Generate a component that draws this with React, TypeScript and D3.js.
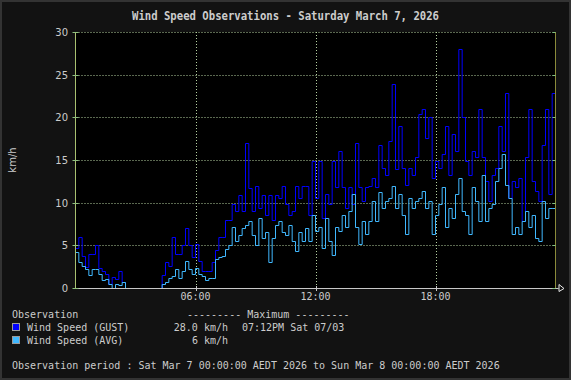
import React from "react";
import * as d3 from "d3";

const W = 571;
const H = 380;

const yTicks = [0, 5, 10, 15, 20, 25, 30];
const xTickHours = [6, 12, 18];
const xTickLabels = ["06:00", "12:00", "18:00"];

// 10-minute samples from 00:00
const gust = [
  4.7, 6, 3.8, 2.5, 4, 4, 5, 2.4, 2, 1.6, 0.5, 1.3, 1, 2, 0.7, 0, 0, 0, 0, 0,
  0, 0, 0, 0, 0, 0, 1.5, 3, 2.6, 6, 4, 4, 5, 7, 5, 3.6, 5.2, 3.2, 2, 2,
  2, 3, 4.5, 6, 6, 8, 8, 9.8, 9, 10.9, 9, 17, 11.7, 9, 11.9, 9.4, 10.9, 8.6, 10.9, 8,
  10.9, 10.5, 11.9, 9.8, 8.6, 9, 11.9, 10.5, 11.9, 11.9, 8.6, 14.9, 10.6, 14.9, 8.2, 11, 9.8, 14.9, 11.8, 16,
  11.8, 9.4, 11.8, 9.8, 17, 11.8, 10.2, 11.8, 12, 12.9, 11.8, 16.8, 14.1, 13.3, 17.2, 23.9, 14, 19, 14.1, 12.1,
  14.1, 13.3, 15.3, 20.4, 21, 17.6, 20, 12.9, 14.9, 14.1, 15.7, 19, 13.3, 18, 16, 28, 20, 14.9, 13.3, 16,
  15.3, 21, 15.3, 12.5, 10.2, 13.3, 14.1, 19, 16, 22.9, 10.6, 12.5, 11.8, 12.9, 7.9, 15.3, 21, 12.5, 11.4, 10.2,
  16.8, 21, 11, 22.9,
];

const avg = [
  4.2, 3, 2.6, 2.2, 1.5, 2.2, 2.2, 1.6, 0.9, 1.1, 0.5, 0, 0.5, 0.3, 0.7, 0, 0, 0, 0, 0,
  0, 0, 0, 0, 0, 0, 0.5, 0.7, 1.2, 1.4, 2.2, 1.2, 2, 3.2, 2.2, 1.6, 2.4, 1.6, 1.4, 0.9,
  1.2, 1.2, 3.4, 3.6, 3.8, 4.6, 5, 7.1, 5.5, 6.2, 7, 7.4, 7.8, 6.2, 5, 8.2, 5.9, 6.6, 3.1, 5.9,
  7.4, 7.8, 6.6, 6.2, 7.4, 5.5, 4.3, 6.6, 5.5, 7, 5.5, 8.6, 6.7, 7.1, 4.7, 8.2, 5.5, 3.9, 7.1, 6.7,
  8.6, 7.1, 9, 11, 7.1, 5.1, 7.9, 6.3, 7.9, 10.2, 7.9, 11.2, 9.4, 10.2, 10.6, 12, 9.4, 11, 8.6, 6.3,
  10.6, 9.4, 10.2, 10.6, 11.4, 9.4, 10.2, 6.3, 8.6, 9.8, 11.8, 7.1, 9.4, 8.2, 11, 12.9, 9, 8.6, 6.3, 11.8,
  10.2, 7.9, 13.3, 7.9, 9.4, 9.8, 12.5, 14.1, 15.7, 12.1, 10.6, 6.3, 7.1, 6.3, 7.9, 9, 7.1, 8.6, 5.9, 5.5,
  10.2, 8.2, 9.4, 9.4,
];

const seriesNames = ["Wind Speed (GUST)", "Wind Speed (AVG)"];
const seriesColors = ["#0000ff", "#40b8ff"];
const maxValues = ["28.0 km/h", "6 km/h"];
const maxTimes = ["07:12PM Sat 07/03", ""];

const title = "Wind Speed Observations - Saturday March 7, 2026";
const periodText =
  "Observation period : Sat Mar 7 00:00:00 AEDT 2026 to Sun Mar 8 00:00:00 AEDT 2026";

const mono = "'DejaVu Sans Mono', monospace";
const sans = "'DejaVu Sans', sans-serif";

export default function App() {
  const x = d3.scaleLinear().domain([0, 24]).range([75.5, 555.5]);
  const y = d3.scaleLinear().domain([0, 30]).range([288, 32]);

  const toPts = (arr: number[]) => {
    const pts: [number, number][] = arr.map((v, i) => [i / 6, v]);
    pts.push([24, arr[arr.length - 1]]);
    return pts;
  };
  const line = d3
    .line<[number, number]>()
    .x((d) => x(d[0]))
    .y((d) => Math.round(y(d[1])) + 0.5)
    .curve(d3.curveStepAfter);

  const gridColor = "#b4d0a0";
  const textColor = "#cccccc";

  return (
    <div style={{ position: "absolute", left: 0, top: 0 }}>
      <svg width={W} height={H} style={{ display: "block" }}>
        <rect x={1} y={1} width={W - 2} height={H - 2} fill="#121212" stroke="#333" strokeWidth={2} />
        <text
          x={W / 2}
          y={20}
          textAnchor="middle"
          fill={textColor}
          fontFamily={mono}
          fontWeight="bold"
          fontSize={13}
          textLength={307}
          lengthAdjust="spacingAndGlyphs"
        >
          {title}
        </text>
        <rect x={x(0)} y={y(30)} width={x(24) - x(0)} height={y(0) - y(30)} fill="#000" />
        {/* horizontal grid */}
        {yTicks.filter((t) => t > 0).map((t) => (
          <line
            key={"gy" + t}
            x1={x(0)}
            x2={x(24)}
            y1={Math.round(y(t)) + 0.5}
            y2={Math.round(y(t)) + 0.5}
            stroke={gridColor}
            strokeDasharray="1,2"
          />
        ))}
        {/* vertical grid */}
        {xTickHours.map((h) => (
          <line
            key={"gx" + h}
            x1={Math.round(x(h)) + 0.5}
            x2={Math.round(x(h)) + 0.5}
            y1={y(30)}
            y2={y(0)}
            stroke={gridColor}
            strokeDasharray="1,2"
          />
        ))}
        {/* series */}
        <path d={line(toPts(gust)) || ""} fill="none" stroke={seriesColors[0]} strokeWidth={1} />
        <path d={line(toPts(avg)) || ""} fill="none" stroke={seriesColors[1]} strokeWidth={1} />
        {/* axes */}
        <line x1={x(0) - 0} x2={x(0)} y1={y(30)} y2={y(0)} stroke="#a8c070" />
        <line x1={x(24)} x2={x(24)} y1={y(30)} y2={y(0)} stroke="#8a8a3a" />
        <line x1={x(0)} x2={x(24) + 3} y1={y(0) + 0.5} y2={y(0) + 0.5} stroke="#c8c8c8" />
        <path
          d={`M${x(24) + 3.5},${y(0) - 3.5} L${x(24) + 8.5},${y(0) + 0.5} L${x(24) + 3.5},${y(0) + 3.5} Z`}
          fill="none"
          stroke="#e8e8e8"
        />
        {yTicks.map((t) => (
          <g key={"yt" + t}>
            <line
              x1={x(0) - 3}
              x2={x(0) + 3}
              y1={Math.round(y(t)) + 0.5}
              y2={Math.round(y(t)) + 0.5}
              stroke="#90c080"
            />
            <line
              x1={x(24) - 3}
              x2={x(24)}
              y1={Math.round(y(t)) + 0.5}
              y2={Math.round(y(t)) + 0.5}
              stroke="#80c080"
            />
            <text
              x={68}
              y={y(t) + 4}
              textAnchor="end"
              fill={textColor}
              fontFamily={sans}
              fontSize={10}
            >
              {t}
            </text>
          </g>
        ))}
        {xTickHours.map((h, i) => (
          <g key={"xt" + h}>
            <line
              x1={Math.round(x(h)) + 0.5}
              x2={Math.round(x(h)) + 0.5}
              y1={y(0) - 2}
              y2={y(0) + 3}
              stroke="#c8c8c8"
            />
            <text
              x={x(h)}
              y={299.5}
              textAnchor="middle"
              fill={textColor}
              fontFamily={mono}
              fontSize={10}
            >
              {xTickLabels[i]}
            </text>
          </g>
        ))}
        <text
          transform={`translate(16,160) rotate(-90)`}
          textAnchor="middle"
          fill={textColor}
          fontFamily={sans}
          fontSize={10}
        >
          km/h
        </text>
        {/* legend */}
        <text x={12} y={318} fill={textColor} fontFamily={mono} fontSize={10}>
          Observation
        </text>
        <text x={187} y={318} fill={textColor} fontFamily={mono} fontSize={10}>
          --------- Maximum ---------
        </text>
        {seriesNames.map((n, i) => (
          <g key={n}>
            <rect
              x={12.5}
              y={323.5 + i * 13}
              width={7}
              height={7}
              fill={seriesColors[i]}
              stroke="#9a9a9a"
            />
            <text x={27} y={331 + i * 13} fill={textColor} fontFamily={mono} fontSize={10}>
              {n}
            </text>
            <text x={228} y={331 + i * 13} textAnchor="end" fill={textColor} fontFamily={mono} fontSize={10}>
              {maxValues[i]}
            </text>
            <text x={242} y={331 + i * 13} fill={textColor} fontFamily={mono} fontSize={10}>
              {maxTimes[i]}
            </text>
          </g>
        ))}
        <text x={12} y={369} fill={textColor} fontFamily={mono} fontSize={10}>
          {periodText}
        </text>
      </svg>
    </div>
  );
}
